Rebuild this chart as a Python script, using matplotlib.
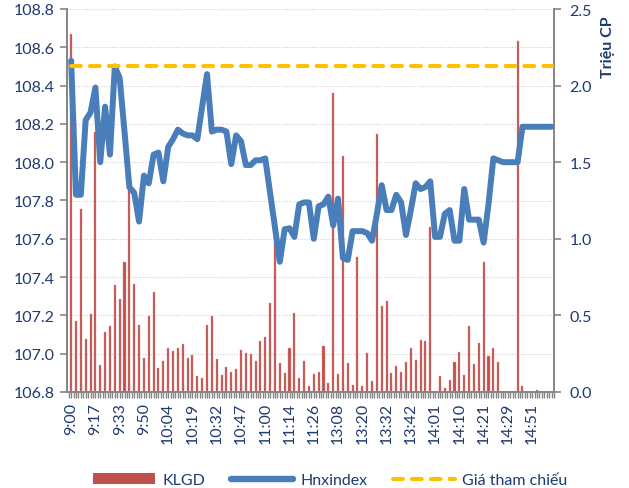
import matplotlib
matplotlib.use("Agg")
import matplotlib.pyplot as plt
from matplotlib.ticker import MultipleLocator, FormatStrFormatter, FixedLocator
from matplotlib.lines import Line2D
from matplotlib.patches import Patch
import numpy as np

plt.rcParams['font.family'] = ['Lato', 'DejaVu Sans']

# Hnxindex (left axis)
hnxindex = [
    108.53, 107.83, 107.83, 108.22, 108.26, 108.39, 108.00, 108.29, 108.04, 108.50,
    108.44, 108.16, 107.87, 107.84, 107.69, 107.93, 107.89, 108.04, 108.05, 107.90,
    108.08, 108.12, 108.17, 108.15, 108.14, 108.14, 108.12, 108.29, 108.46, 108.16,
    108.17, 108.17, 108.16, 107.99, 108.14, 108.11, 107.985, 107.985, 108.01, 108.01,
    108.02, 107.84, 107.66, 107.48, 107.65, 107.655, 107.61, 107.78, 107.79, 107.79,
    107.60, 107.77, 107.78, 107.82, 107.67, 107.81, 107.50, 107.49, 107.64, 107.64,
    107.64, 107.63, 107.59, 107.73, 107.88, 107.75, 107.75, 107.83, 107.79, 107.62,
    107.75, 107.89, 107.86, 107.87, 107.90, 107.61, 107.61, 107.73, 107.75, 107.59,
    107.59, 107.86, 107.70, 107.70, 107.70, 107.58, 107.78, 108.02, 108.01, 108.00,
    108.00, 108.00, 108.00, 108.185, 108.185, 108.185, 108.185, 108.185, 108.185, 108.185,
]

# KLGD (right axis, million shares)
klgd = [
    2.34, 0.465, 1.195, 0.346, 0.509, 1.70, 0.176, 0.39, 0.433, 0.698,
    0.607, 0.851, 1.34, 0.705, 0.437, 0.22, 0.498, 0.655, 0.157, 0.20,
    0.287, 0.265, 0.287, 0.313, 0.222, 0.241, 0.102, 0.089, 0.437, 0.498,
    0.215, 0.113, 0.161, 0.128, 0.15, 0.274, 0.252, 0.245, 0.20, 0.335,
    0.357, 0.579, 1.02, 0.187, 0.124, 0.287, 0.514, 0.089, 0.20, 0.037,
    0.1175, 0.128, 0.302, 0.059, 1.95, 0.1175, 1.542, 0.189, 0.046, 0.879,
    0.041, 0.255, 0.07, 1.684, 0.563, 0.596, 0.124, 0.168, 0.133, 0.198,
    0.287, 0.209, 0.341, 0.331, 1.079, 0.0, 0.102, 0.024, 0.078, 0.194,
    0.259, 0.111, 0.429, 0.183, 0.32, 0.851, 0.237, 0.285, 0.194, 0.0,
    0.0, 0.0, 2.29, 0.037, 0.0, 0.0, 0.013, 0.0, 0.0, 0.0,
]

gia_tham_chieu = 108.50

tick_labels = ["9:00", "9:17", "9:33", "9:50", "10:04", "10:19", "10:32", "10:47",
               "11:00", "11:14", "11:26", "13:08", "13:20", "13:32", "13:42",
               "14:01", "14:10", "14:21", "14:29", "14:51"]

n = len(hnxindex)
x = np.arange(n)
label_pos = np.arange(0, n, 5)[:len(tick_labels)]

text_color = '#1F3A6E'
axis_color = '#868686'
fs = 11.5

fig = plt.figure(figsize=(6.29, 4.89), dpi=100)
fig.patch.set_facecolor('white')
ax = fig.add_axes([67/629, 1-393/489, (554-67)/629, (393-10)/489])
ax2 = ax.twinx()
ax.set_zorder(ax2.get_zorder() + 1)
ax.patch.set_visible(False)

# bars on secondary axis
ax2.bar(x, klgd, width=0.42, color='#C0504D', edgecolor='#D99694', linewidth=0.3, zorder=2)
ax2.set_ylim(0, 2.5)
ax2.yaxis.set_major_locator(MultipleLocator(0.5))
ax2.yaxis.set_minor_locator(MultipleLocator(0.25))
ax2.yaxis.set_major_formatter(FormatStrFormatter('%.1f'))
ax2.grid(which='both', axis='y', color='#D0D0D0', linestyle=(0, (1, 1.5)), linewidth=0.8, zorder=0)
ax2.set_axisbelow(True)
ax2.tick_params(axis='y', which='major', direction='out', length=5, width=1.2,
                color=axis_color, labelcolor=text_color, labelsize=fs, pad=6)
ax2.tick_params(axis='y', which='minor', length=0)

# lines on primary axis
ax.plot(x, hnxindex, color='#4A7EBB', lw=4.3, solid_joinstyle='round',
        solid_capstyle='round', zorder=3)
ax.plot(x, [gia_tham_chieu] * n, color='#FFC000', lw=2.9, dashes=(2.45, 2.24),
        dash_capstyle='round', zorder=4)

ax.set_ylim(106.8, 108.8)
ax.yaxis.set_major_locator(MultipleLocator(0.2))
ax.yaxis.set_major_formatter(FormatStrFormatter('%.1f'))
ax.tick_params(axis='y', direction='out', length=5, width=1.2, color=axis_color,
               labelcolor=text_color, labelsize=fs, pad=4)

ax.set_xlim(-0.85, n - 0.5)
ax.set_xticks(label_pos)
ax.set_xticklabels(tick_labels, rotation=90, fontsize=fs, color=text_color)
ax.xaxis.set_minor_locator(FixedLocator(np.arange(-0.5, n, 0.5)))
ax.tick_params(axis='x', which='both', direction='out', length=4, width=1.0,
               color=axis_color, pad=3)

for a in (ax, ax2):
    a.spines['top'].set_visible(False)
    for s in ('left', 'right', 'bottom'):
        a.spines[s].set_color(axis_color)
        a.spines[s].set_linewidth(1.3)

fig.text(608/629, 1-47/489, 'Triệu CP', rotation=90, ha='center', va='center',
         fontsize=fs, fontweight='bold', color=text_color)

handles = [Patch(facecolor='#C0504D', edgecolor='none'),
           Line2D([0], [0], color='#4A7EBB', lw=4.6, solid_capstyle='round'),
           Line2D([0], [0], color='#FFC000', lw=2.9, dashes=(2.45, 2.24), dash_capstyle='round')]
fig.legend(handles, ['KLGD', 'Hnxindex', 'Giá tham chiếu'], loc='center',
           bbox_to_anchor=(0.525, 0.016), ncol=3, frameon=False, fontsize=fs,
           handlelength=3.9, handletextpad=0.45, columnspacing=1.6,
           labelcolor=text_color)

fig.savefig('out.png', dpi=100, facecolor='white')
